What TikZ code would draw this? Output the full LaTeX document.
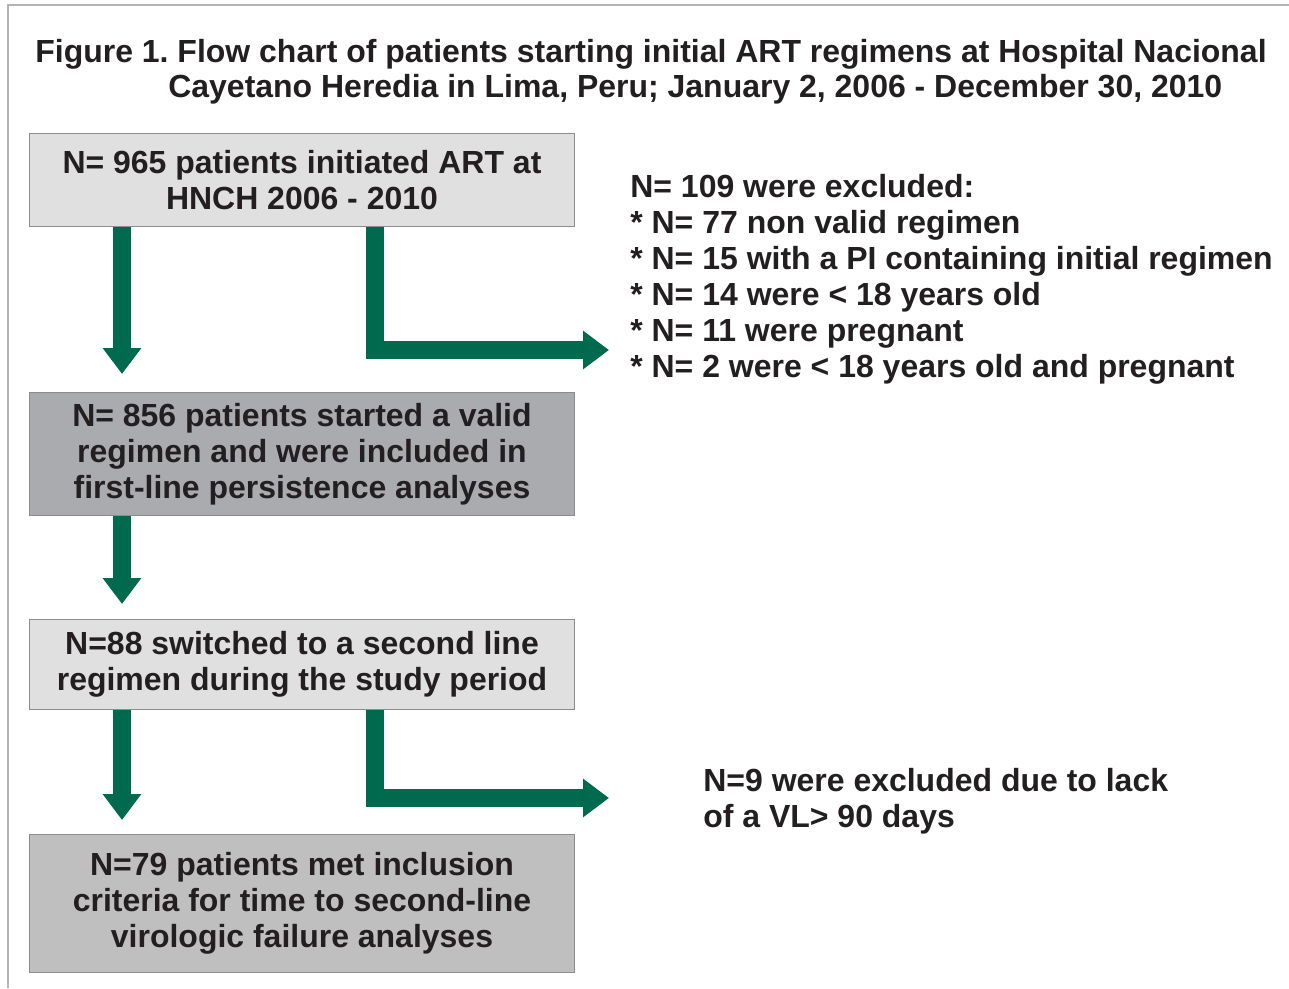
\documentclass[tikz,border=0pt]{standalone}
\usepackage{fontspec}
\setmainfont{Liberation Sans}
\usetikzlibrary{arrows.meta,positioning,calc}
\definecolor{arrowgreen}{HTML}{006A4E}
\definecolor{inkblack}{HTML}{231F20}
\definecolor{boxline}{HTML}{8C8C8C}
\definecolor{framegray}{HTML}{B4B4B4}
\definecolor{lightfill}{HTML}{E0E0E0}
\definecolor{darkfill}{HTML}{A9ABAE}
\definecolor{midfill}{HTML}{C0BFC0}
\frenchspacing

\begin{document}
\begin{tikzpicture}[x=0.02cm, y=-0.02cm, node distance=3cm]
\tikzstyle{box}=[draw=boxline, line width=0.6pt, align=center, text=inkblack, inner sep=0pt,
  font=\fontsize{18.2}{20.5}\selectfont\bfseries, minimum width=10.9cm]
\tikzstyle{side}=[anchor=west, align=left, text=inkblack, inner sep=0pt,
  font=\fontsize{18.2}{20.5}\selectfont\bfseries]
\tikzstyle{heading}=[anchor=base west, inner sep=0pt, text=inkblack,
  font=\fontsize{18.2}{20}\selectfont\bfseries]
\tikzstyle{flow}=[draw=arrowgreen, line width=0.37cm, line join=miter,
  -{Triangle[length=0.52cm,width=0.74cm]}]

\useasboundingbox (0,0) rectangle (1289,988);
\draw[framegray, line width=0.8pt] (1289,5) -- (8,5) -- (8,988);

% title
\node[heading] (t1) at (35,62) {Figure 1. Flow chart of patients starting initial ART regimens at Hospital Nacional};
\node[heading] (t2) at (168,97) {Cayetano Heredia in Lima, Peru; January 2, 2006 - December 30, 2010};

% boxes
\node[box, fill=lightfill, minimum height=1.86cm] (b1) at (302,180) {N= 965 patients initiated ART at\\HNCH 2006 - 2010};
\node[box, fill=darkfill, minimum height=2.46cm, below=3.3cm of b1] (b2) {N= 856 patients started a valid\\regimen and were included in\\first-line persistence analyses};
\node[box, fill=lightfill, minimum height=1.8cm, below=2.06cm of b2] (b3) {N=88 switched to a second line\\regimen during the study period};
\node[box, fill=midfill, minimum height=2.76cm, below=2.48cm of b3] (b4) {N=79 patients met inclusion\\criteria for time to second-line\\virologic failure analyses};

% exclusions
\node[side] (excl) at (630,279) {N= 109 were excluded:\\* N= 77 non valid regimen\\* N= 15 with a PI containing initial regimen\\* N= 14 were < 18 years old\\* N= 11 were pregnant\\* N= 2 were < 18 years old and pregnant};
\node[side] (novl) at (703,801) {N=9 were excluded due to lack\\of a VL> 90 days};

% arrows
\coordinate (lcol) at (122,0);
\coordinate (rcol) at (375,0);
\coordinate (tip1) at (609,350);
\coordinate (tip2) at (609,798);
\draw[flow, shorten >=0.36cm] (b1.south -| lcol) -- (b2.north -| lcol);
\draw[flow, shorten >=0.3cm] (b2.south -| lcol) -- (b3.north -| lcol);
\draw[flow, shorten >=0.28cm] (b3.south -| lcol) -- (b4.north -| lcol);
\draw[flow] (b1.south -| rcol) |- (tip1);
\draw[flow] (b3.south -| rcol) |- (tip2);

\end{tikzpicture}
\end{document}
